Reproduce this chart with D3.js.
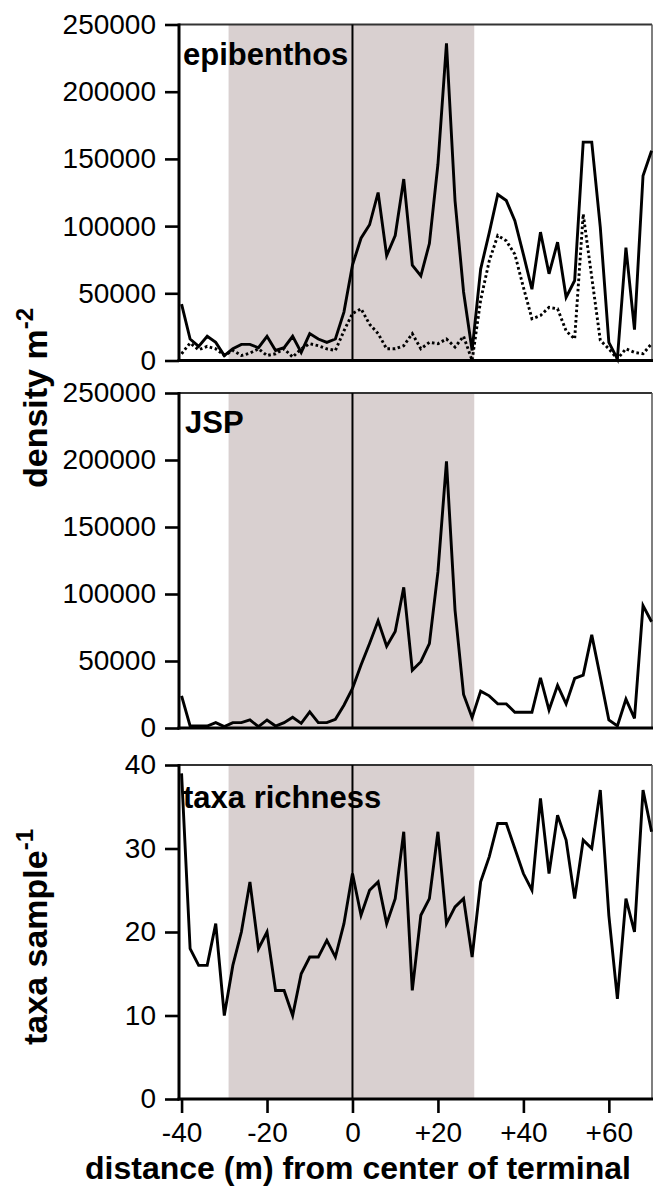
<!DOCTYPE html>
<html>
<head>
<meta charset="utf-8">
<script src="https://cdn.jsdelivr.net/npm/d3@7"></script>
<style>
  html, body { margin: 0; padding: 0; background: #fff; }
  svg { display: block; }
</style>
</head>
<body>
<svg id="chart" width="653" height="1199"></svg>
<script>
// ---- data ----
const distances = [-40,-38,-36,-34,-32,-30,-28,-26,-24,-22,-20,-18,-16,-14,-12,-10,-8,-6,-4,-2,
  0,2,4,6,8,10,12,14,16,18,20,22,24,26,28,30,32,34,36,38,40,42,44,46,48,50,52,54,56,58,60,62,64,66,68,70];

const epibenthosTotal = [42000,16000,10500,18000,13500,3700,8700,12000,12000,9500,
  18000,7500,9500,18000,6000,20000,16000,13500,16000,36000,
  71000,91000,101000,125000,78000,93000,135000,71000,63000,87000,
  146000,236000,119000,51000,7500,68000,95000,123500,119000,104000,
  79000,53000,95500,64500,88000,47000,59500,162500,162500,99000,
  13500,1200,84000,23000,137500,156000];

const epibenthosDotted = [5000,13000,8000,10500,8700,3700,7500,3700,5500,8700,
  3700,5000,8700,2500,8700,12500,11000,8700,7500,22000,
  35000,38500,27000,20000,8700,8700,11000,20000,8700,13500,
  12500,16000,10000,18000,0,45000,74000,93000,89000,79000,
  54500,31000,33500,39500,38500,22000,16000,109000,62000,15000,
  8700,1200,8700,6000,5000,12500];

const jsp = [24000,1500,1500,1500,4000,1000,4000,4000,6000,1000,
  6000,1500,4000,8000,3500,12000,4000,4000,6500,17000,
  29500,47000,63000,80000,61000,72000,105000,43000,49500,63000,
  116500,199000,88000,25000,7700,27500,24000,18000,18000,11700,
  11700,11700,37500,13400,31800,18000,37000,39500,69500,38000,
  6000,1500,21500,7200,91300,79300];

const taxaRichness = [39,18,16,16,21,10,16,20,26,18,
  20,13,13,10,15,17,17,19,17,21,
  27,22,25,26,21,24,32,13,22,24,
  32,21,23,24,17,26,29,33,33,30,
  27,25,36,27,34,31,24,31,30,37,
  22,12,24,20,37,32];

const densityTicks = [0,50000,100000,150000,200000,250000];
const taxaTicks = [0,10,20,30,40];
const xTicks = [-40,-20,0,20,40,60];
const xTickLabels = ["-40","-20","0","+20","+40","+60"];
const shadeRange = [-29,28.5];
const panelLabels = ["epibenthos","JSP","taxa richness"];

// ---- layout ----
const svg = d3.select("#chart");
const FONT = "'Liberation Sans', Arial, Helvetica, sans-serif";
const left = 179, right = 652;
const x = d3.scaleLinear().domain([-40.6, 70.1]).range([left, right]);

const panels = [
  { top: 24.5, bottom: 360.5, domain: [0,250000], ticks: densityTicks, series: [{v: epibenthosTotal, dash: null}, {v: epibenthosDotted, dash: "2.6,2.6"}], label: panelLabels[0], lx: 183, ly: 65 },
  { top: 393, bottom: 728, domain: [0,250000], ticks: densityTicks, series: [{v: jsp, dash: null}], label: panelLabels[1], lx: 185, ly: 433 },
  { top: 765, bottom: 1099, domain: [0,40], ticks: taxaTicks, series: [{v: taxaRichness, dash: null}], label: panelLabels[2], lx: 183, ly: 808 }
];

panels.forEach((p, pi) => {
  const y = d3.scaleLinear().domain(p.domain).range([p.bottom, p.top]);
  const g = svg.append("g");

  // shaded terminal region
  g.append("rect")
    .attr("x", x(shadeRange[0])).attr("y", p.top)
    .attr("width", x(shadeRange[1]) - x(shadeRange[0]))
    .attr("height", p.bottom - p.top)
    .attr("fill", "#d9d0d0");

  // top & right frame
  g.append("line").attr("x1", left).attr("x2", right).attr("y1", p.top).attr("y2", p.top)
    .attr("stroke", "#333").attr("stroke-width", 1.8);
  g.append("line").attr("x1", right).attr("x2", right).attr("y1", p.top).attr("y2", p.bottom)
    .attr("stroke", "#555").attr("stroke-width", 1.5);

  // vertical line at 0
  g.append("line").attr("x1", x(0)).attr("x2", x(0)).attr("y1", p.top).attr("y2", p.bottom)
    .attr("stroke", "#000").attr("stroke-width", 2);

  // panel label
  g.append("text").attr("x", p.lx).attr("y", p.ly)
    .attr("font-family", FONT).attr("font-weight", "bold").attr("font-size", 31)
    .attr("fill", "#000").text(p.label);

  // series lines
  p.series.forEach(s => {
    const line = d3.line().x((d, i) => x(distances[i])).y(d => y(d));
    g.append("path").datum(s.v)
      .attr("d", line)
      .attr("fill", "none")
      .attr("stroke", "#000")
      .attr("stroke-width", 2.9)
      .attr("stroke-linejoin", "miter")
      .attr("stroke-dasharray", s.dash);
  });

  // y axis
  const yAxis = d3.axisLeft(y).tickValues(p.ticks).tickFormat(d3.format("d")).tickSize(14).tickPadding(9);
  const ya = g.append("g").attr("transform", `translate(${left},0)`).call(yAxis);
  ya.select(".domain").remove();
  ya.selectAll(".tick line").attr("stroke", "#000").attr("stroke-width", 2.6);
  ya.selectAll(".tick text").attr("font-family", FONT).attr("font-size", 28).attr("fill", "#000");
  g.append("line").attr("x1", left).attr("x2", left).attr("y1", p.top - 1).attr("y2", p.bottom + 1.5)
    .attr("stroke", "#000").attr("stroke-width", 3);

  // bottom axis line
  g.append("line").attr("x1", left - 1.5).attr("x2", right + 1).attr("y1", p.bottom).attr("y2", p.bottom)
    .attr("stroke", "#000").attr("stroke-width", 3.2);

  if (pi === 2) {
    const xAxis = d3.axisBottom(x).tickValues(xTicks).tickFormat((d, i) => xTickLabels[i]).tickSize(14).tickPadding(9);
    const xa = g.append("g").attr("transform", `translate(0,${p.bottom})`).call(xAxis);
    xa.select(".domain").remove();
    xa.selectAll(".tick line").attr("stroke", "#000").attr("stroke-width", 2.6);
    xa.selectAll(".tick text").attr("font-family", FONT).attr("font-size", 28).attr("fill", "#000");
  }
});

// axis titles
svg.append("text")
  .attr("x", 358).attr("y", 1179)
  .attr("text-anchor", "middle")
  .attr("font-family", FONT).attr("font-weight", "bold").attr("font-size", 32)
  .attr("fill", "#000")
  .text("distance (m) from center of terminal");

const t1 = svg.append("text")
  .attr("transform", "translate(47,488) rotate(-90)")
  .attr("font-family", FONT).attr("font-weight", "bold").attr("font-size", 34)
  .attr("fill", "#000");
t1.append("tspan").text("density m");
t1.append("tspan").attr("font-size", 24).attr("dy", -14).text("-2");

const t2 = svg.append("text")
  .attr("transform", "translate(47,1045) rotate(-90)")
  .attr("font-family", FONT).attr("font-weight", "bold").attr("font-size", 34)
  .attr("fill", "#000");
t2.append("tspan").text("taxa sample");
t2.append("tspan").attr("font-size", 24).attr("dy", -14).text("-1");
</script>
</body>
</html>
